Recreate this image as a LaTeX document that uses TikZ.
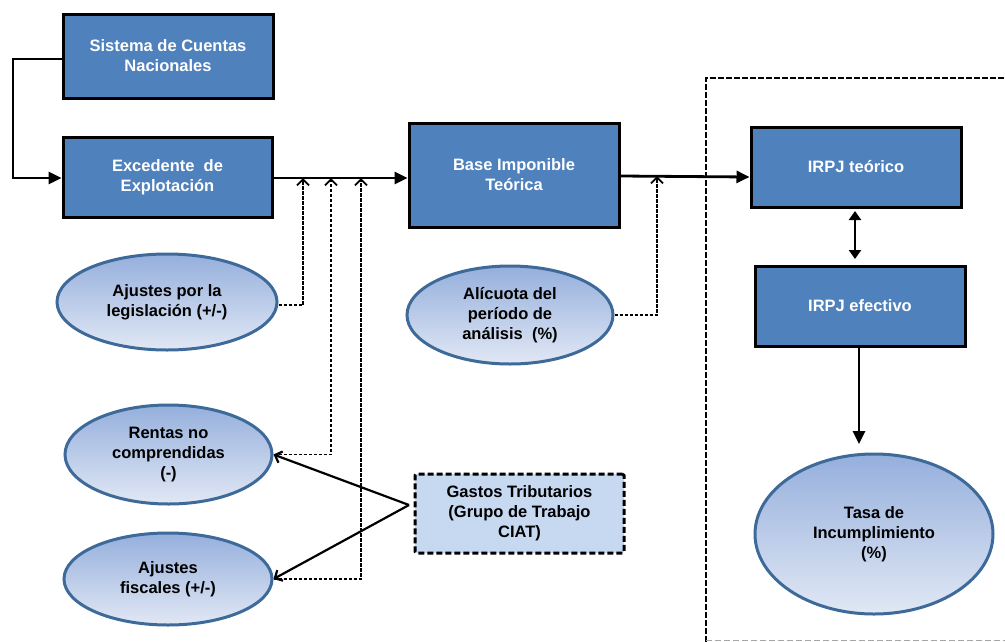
\documentclass[tikz,border=0pt]{standalone}
\usepackage{fontspec}
\setmainfont{Liberation Sans}
\usetikzlibrary{arrows.meta,shapes.geometric}
\definecolor{boxblue}{HTML}{4F81BD}
\definecolor{ellborder}{HTML}{3E6A9A}
\definecolor{elltop}{HTML}{95AFDC}
\definecolor{ellbot}{HTML}{E1E8F5}
\definecolor{gasfill}{HTML}{C6D9F1}
\tikzset{
  txt/.style={font=\fontsize{16.5}{20}\selectfont\bfseries, align=center},
  bluebox/.style={txt, rectangle, draw=black, line width=3pt, fill=boxblue, text=white, inner sep=0pt},
  ellnode/.style={txt, ellipse, draw=ellborder, line width=3pt, top color=elltop, bottom color=ellbot, text=black, inner sep=0pt},
  gasbox/.style={txt, rectangle, draw=black, line width=3pt, dash pattern=on 6pt off 3pt, fill=gasfill, text=black, inner sep=0pt, rounded corners=1.5pt},
  solidarrow/.style={line width=2.8pt, -{Triangle[length=13pt,width=12pt]}},
  dasharrow/.style={line width=1.9pt, dash pattern=on 3.5pt off 1.5pt, -{Straight Barb[length=6pt,width=12pt,line width=1.9pt]}},
  thinarrow/.style={line width=2.2pt, -{Straight Barb[length=6pt,width=12pt,line width=2.2pt]}},
}
\begin{document}
\begin{tikzpicture}[x=1pt,y=-1pt]
\useasboundingbox (0,0) rectangle (1005,641);
% dashed region
\draw[line width=2.6pt, dash pattern=on 6pt off 2pt] (706,650) -- (706,78) -- (1012,78);
\draw[gray!70, line width=1pt, dash pattern=on 6pt off 3pt] (706,640) -- (1012,640);

% boxes
\node[bluebox, minimum width=210pt, minimum height=84pt] (sis) at (168,56) {Sistema de Cuentas\\Nacionales};
\node[bluebox, minimum width=209pt, minimum height=80pt] (exc) at (167.5,177) {Excedente \ de\\Explotación};
\node[bluebox, minimum width=210pt, minimum height=104pt] (base) at (514,175) {Base Imponible\\Teórica};
\node[bluebox, minimum width=210pt, minimum height=80pt] (irt) at (856,167) {IRPJ teórico};
\node[bluebox, minimum width=210pt, minimum height=80pt] (ire) at (860,306) {IRPJ efectivo};
\node[gasbox, minimum width=209pt, minimum height=79pt] (gas) at (519.5,513.5) {Gastos Tributarios\\(Grupo de Trabajo\\CIAT)};

% ellipses
\node[ellnode, minimum width=220pt, minimum height=96pt] (leg) at (167,302) {Ajustes por la\\legislación (+/-)};
\node[ellnode, minimum width=207pt, minimum height=99pt] (ren) at (168.5,454.5) {Rentas no\\comprendidas\\(-)};
\node[ellnode, minimum width=208pt, minimum height=92pt] (fis) at (168,579) {Ajustes\\fiscales (+/-)};
\node[ellnode, minimum width=206pt, minimum height=98pt] (ali) at (510,315) {Alícuota del\\período de\\análisis \ (\%)};
\node[ellnode, minimum width=238pt, minimum height=160pt] (tasa) at (874,534) {Tasa de\\Incumplimiento\\(\%)};

% junction points
\coordinate (j1) at (303,178);
\coordinate (j2) at (331,178);
\coordinate (j3) at (361,178);
\coordinate (j4) at (657,176);
\coordinate (gp) at (409,505);
\coordinate (lc) at (13,59);

% solid connectors
\draw[solidarrow] (sis.west |- lc) -- (lc) |- (exc.west |- 0,178);
\draw[solidarrow] (exc.east |- 0,178) -- (base.west |- 0,178);
\draw[solidarrow] (base.east |- 0,176) -- (irt.west |- 0,177);
\draw[line width=2.8pt, {Triangle[length=9pt,width=12pt]}-{Triangle[length=9pt,width=12pt]}] (855,211) -- (855,259);
\draw[solidarrow] (ire.south -| 859,0) -- (859,444);

% dashed connectors
\draw[dasharrow] (leg.east |- 0,305) -| (j1);
\draw[dasharrow] (ren.east) -| (j2);
\draw[dasharrow] (fis.east) -| (j3);
\draw[dasharrow] (ali.east) -| (j4);

% gastos lines
\draw[thinarrow] (gp) -- (ren.east);
\draw[thinarrow] (gp) -- (fis.east);
\end{tikzpicture}
\end{document}
